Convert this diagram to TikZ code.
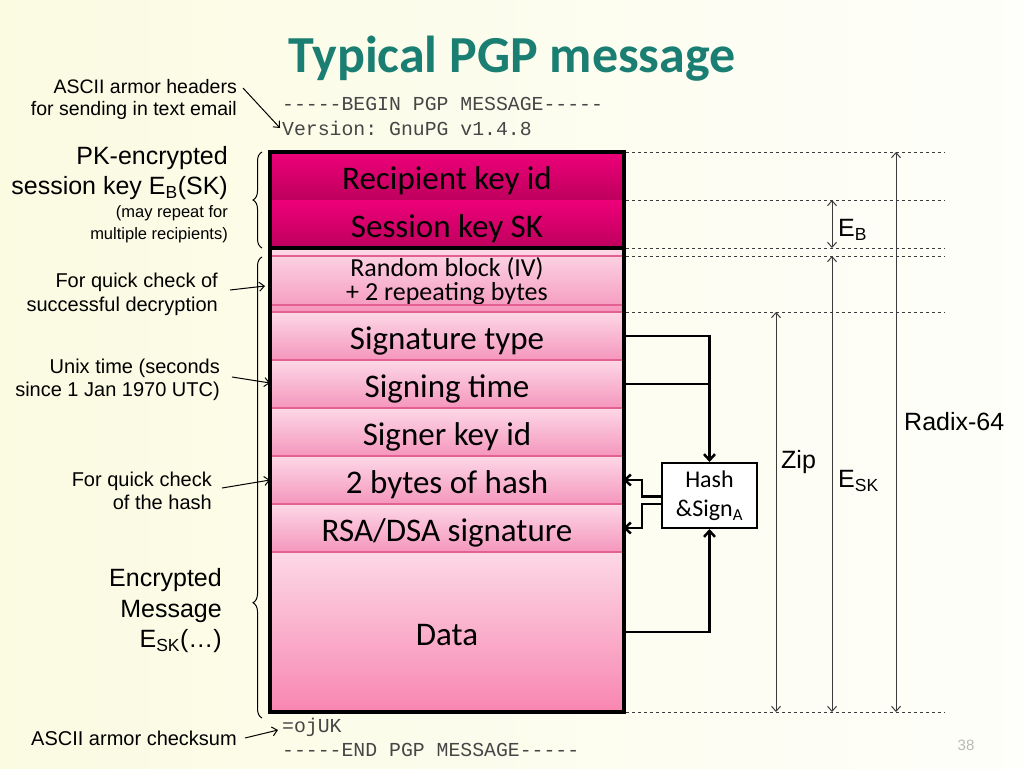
\documentclass[tikz,border=0pt]{standalone}
\usepackage{fontspec}
\setmainfont{Carlito}
\newfontfamily\arialfont{Liberation Sans}
\setmonofont{Liberation Mono}
\usetikzlibrary{arrows.meta,calc,decorations.pathreplacing}

\definecolor{bgleft}{RGB}{251,251,226}
\definecolor{bgright}{RGB}{254,254,250}
\definecolor{titleteal}{RGB}{27,126,114}
\definecolor{pinkhi}{RGB}{238,0,122}
\definecolor{pinklo}{RGB}{190,0,92}
\definecolor{rosehi}{RGB}{252,216,230}
\definecolor{roselo}{RGB}{245,150,188}
\definecolor{roseline}{RGB}{228,96,146}
\definecolor{datalo}{RGB}{248,134,176}
\definecolor{dimgray}{RGB}{60,60,60}
\definecolor{monogray}{RGB}{70,70,70}

\begin{document}
\begin{tikzpicture}[x=1pt,y=-1pt,>={Straight Barb[length=5pt,width=9pt]},
  row/.style={rectangle,inner sep=0pt,outer sep=0pt,minimum width=354pt,
    font=\fontsize{33}{35}\selectfont,text height=31pt,text depth=5pt},
  dkrow/.style={row,top color=pinkhi,bottom color=pinklo},
  ltrow/.style={row,top color=rosehi,bottom color=roselo,draw=roseline,line width=1.5pt},
  note/.style={font=\arialfont\fontsize{20}{23}\selectfont,align=right,anchor=east,inner sep=0pt},
  big/.style={note,font=\arialfont\fontsize{25}{30.5}\selectfont},
  mono/.style={font=\ttfamily\fontsize{19.8}{23}\selectfont,text=monogray,anchor=west,inner sep=0pt},
  dim/.style={<->,draw=dimgray,line width=1pt},
  dimlbl/.style={font=\arialfont\fontsize{25}{28}\selectfont,anchor=west,inner sep=0pt},
  guide/.style={dashed,draw=dimgray,line width=1pt},
  link/.style={line width=2.5pt,>={Straight Barb[length=6pt,width=11pt]}},
  brace/.style={decorate,decoration={brace,amplitude=9pt},line width=1pt}]

  \fill[left color=bgleft,right color=bgright] (0,0) rectangle (1024,768);
  \useasboundingbox (0,0) rectangle (1024,768);

  % title
  \node[font=\bfseries\fontsize{52}{54}\selectfont,text=titleteal] (title) at (512,59) {Typical PGP message};

  % armor text
  \node[mono] (begin) at (282,104) {-{}-{}-{}-{}-BEGIN PGP MESSAGE-{}-{}-{}-{}-};
  \node[mono] (ver) at (282,128) {Version: GnuPG v1.4.8};
  \node[mono] (ojuk) at (282,727) {=ojUK};
  \node[mono] (end) at (282,750) {-{}-{}-{}-{}-END PGP MESSAGE-{}-{}-{}-{}-};

  % packet rows
  \node[dkrow,minimum height=48pt] (rkey) at (447,176) {Recipient key id};
  \node[dkrow,minimum height=48pt] (skey) at (447,224) {Session key SK};
  \node[ltrow,minimum height=64pt,align=center,text height=,text depth=,
    font=\fontsize{26}{24}\selectfont] (rand) at (447,281) {Random block (IV)\\+ 2 repeating bytes};
  \node[ltrow,minimum height=48pt] (sigt) at (447,336) {Signature type};
  \node[ltrow,minimum height=48pt] (sigtime) at (447,384) {Signing time};
  \node[ltrow,minimum height=48pt] (signer) at (447,432) {Signer key id};
  \node[ltrow,minimum height=48pt] (hash2) at (447,480) {2 bytes of hash};
  \node[ltrow,minimum height=48pt] (rsa) at (447,528) {RSA/DSA signature};
  \node[ltrow,minimum height=160pt,bottom color=datalo] (data) at (447,632) {Data};

  \draw[roseline,line width=1.2pt] ([yshift=-7pt]rand.north west) -- ([yshift=-7pt]rand.north east);
  \draw[roseline,line width=1.2pt] ([yshift=8pt]rand.south west) -- ([yshift=8pt]rand.south east);
  \draw[line width=4pt] (rkey.north west) rectangle (data.south east);
  \draw[line width=4pt] (skey.south west) -- (skey.south east);

  % hash and sign
  \node[draw,line width=2pt,fill=white,minimum width=95pt,minimum height=65pt,align=center,
    inner sep=0pt,font=\fontsize{24}{29}\selectfont] (hs) at (709.5,495.5) {Hash\\\&Sign\textsubscript{A}};
  \draw[link,->] (sigt.east) -| (hs.north);
  \draw[link] (sigtime.east) -- (sigtime.east -| hs.north);
  \draw[link,->] (data.east) -| (hs.south);
  \draw[link,->,shorten >=-1pt] ([yshift=-1.2pt]hs.west) -- ++(-19,0) |- (hash2.east);
  \draw[link,->,shorten >=-1pt] ([yshift=-8.5pt]hs.west) -- ++(-19,0) |- (rsa.east);

  % layers
  \foreach \y in {152,200,248,256,312,712}
    \draw[guide] (626,\y) -- (945,\y);
  \coordinate (ebT) at (832,200);
  \coordinate (ebB) at (832,248);
  \coordinate (zipT) at (776,312);
  \coordinate (zipB) at (776,712);
  \coordinate (eskT) at (832,256);
  \coordinate (eskB) at (832,712);
  \coordinate (radT) at (896,152);
  \coordinate (radB) at (896,712);
  \draw[dim] (ebT) -- (ebB);
  \draw[dim] (zipT) -- (zipB);
  \draw[dim] (eskT) -- (eskB);
  \draw[dim] (radT) -- (radB);
  \node[dimlbl] (eb) at (838,230) {E\textsubscript{B}};
  \node[dimlbl] (zip) at (781,462) {Zip};
  \node[dimlbl] (esk) at (838,481) {E\textsubscript{SK}};
  \node[dimlbl] (radix) at (904,422) {Radix-64};

  % left notes
  \node[note,font=\arialfont\fontsize{19.5}{22}\selectfont] (hdr) at (237,99)
    {ASCII armor headers\\for sending in text email};
  \node[big] (pk) at (228,173) {PK-encrypted\\session key E\textsubscript{B}(SK)};
  \node[note,font=\arialfont\fontsize{16.5}{22}\selectfont] (rep) at (228,224)
    {(may repeat for\\multiple recipients)};
  \node[note,font=\arialfont\fontsize{20}{24}\selectfont] (qchk) at (218,294)
    {For quick check of\\successful decryption};
  \node[note] (unix) at (220,380) {Unix time (seconds\\since 1 Jan 1970 UTC)};
  \node[note] (qhash) at (212,491) {For quick check\\of the hash};
  \node[big] (enc) at (222,611) {Encrypted\\Message\\E\textsubscript{SK}(\ldots)};
  \node[note] (cks) at (237,738) {ASCII armor checksum};

  \coordinate (qchkT) at (265,286);
  \coordinate (unixT) at (270,383);
  \coordinate (qhashT) at (270,480);
  \draw[->,line width=1pt] ([xshift=6pt,yshift=11pt]hdr.east) -- ([xshift=-2pt]ver.west);
  \draw[->,line width=1pt] ([xshift=12pt,yshift=4pt]qchk.east) -- (qchkT);
  \draw[->,line width=1pt] ([xshift=12pt,yshift=3pt]unix.east) -- (unixT);
  \draw[->,line width=1pt] ([xshift=10pt,yshift=3pt]qhash.east) -- (qhashT);
  \draw[->,line width=1pt] ([xshift=8pt]cks.east) -- ([xshift=-4pt,yshift=-3pt]ojuk.west);

  \draw[brace] ([xshift=-8pt]skey.south west) -- ([xshift=-8pt]rkey.north west);
  \draw[brace,decoration={aspect=0.25}] (262,718) -- (262,257);

  \node[font=\arialfont\fontsize{15}{18}\selectfont,text=black!28] (page) at (966,745) {38};
\end{tikzpicture}
\end{document}
